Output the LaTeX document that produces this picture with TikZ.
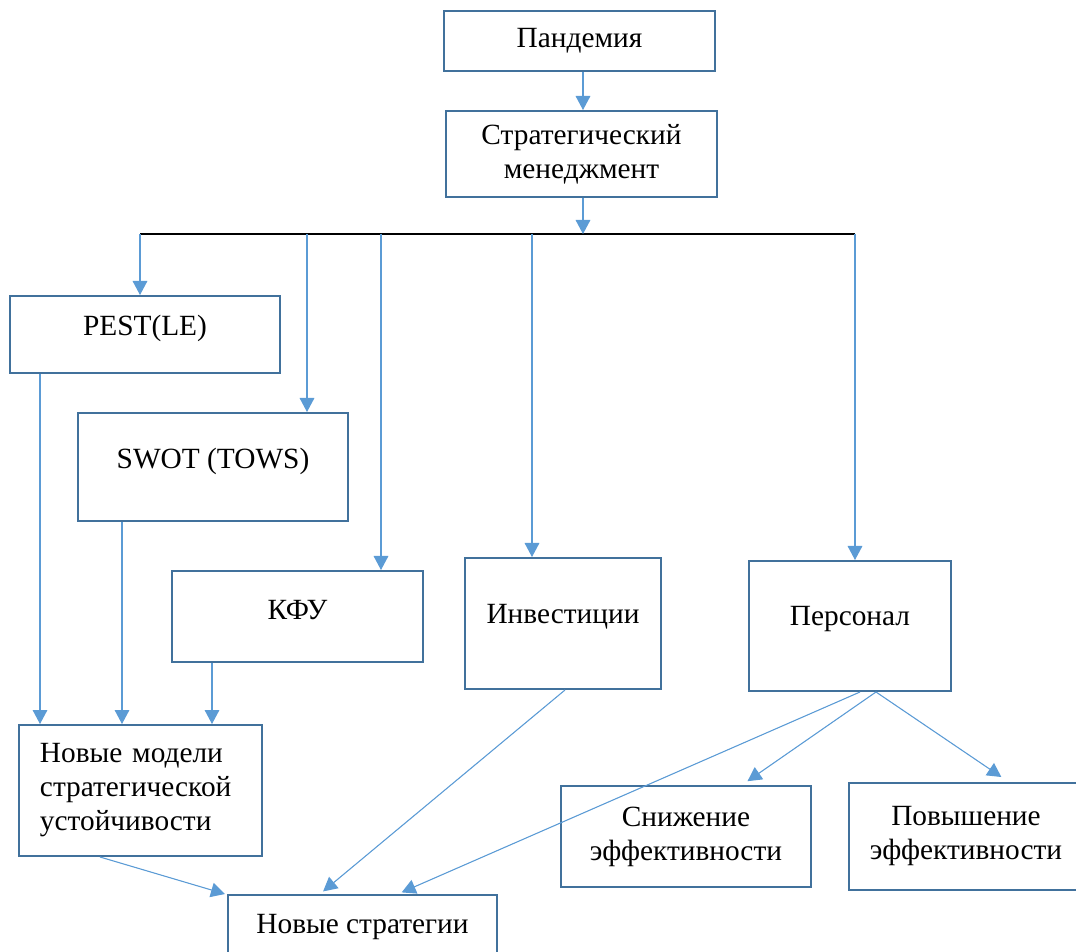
\documentclass[tikz,border=0pt]{standalone}
\usepackage{fontspec}
\setmainfont{Liberation Serif}
\usepackage{xcolor}
\usepackage{tikz}
\usetikzlibrary{shapes,arrows.meta,positioning,calc}
\definecolor{boxline}{HTML}{41719C}
\definecolor{arrline}{HTML}{5B9BD5}

\begin{document}
\begin{tikzpicture}[
    x=0.75pt, y=-0.75pt,
    block/.style={rectangle, draw=boxline, line width=1.5pt, fill=white, align=center, font=\fontsize{22}{25.5}\selectfont},
    size/.style 2 args={minimum width=#1*0.75pt, minimum height=#2*0.75pt},
    lift/.style={text height=15.4pt, text depth=#1},
    arrow/.style={-{Triangle[length=10.5pt, width=11pt]}, line width=0.8pt, draw=arrline, fill=arrline},
    bus/.style={line width=0.9pt, draw=black}
]
    \useasboundingbox (0,0) rectangle (1076,952);

    \node [block, size={271}{60}] (pand) at (579.5,41) {Пандемия};
    \node [block, size={271}{86}] (strat) at (581.5,154) {Стратегический\\менеджмент};
    \node [block, size={270}{77}, lift=13.6pt] (pest) at (145,334.5) {PEST(LE)};
    \node [block, size={270}{108}, lift=12.8pt] (swot) at (213,467) {SWOT (TOWS)};
    \node [block, size={251}{91}, lift=10.6pt] (kfu) at (297.5,616.5) {КФУ};
    \node [block, size={196}{131}, lift=15pt] (invest) at (563,623.5) {Инвестиции};
    \node [block, size={202}{130}, lift=15.8pt] (pers) at (850,626) {Персонал};
    \node [block, size={243}{131}, text width=201*0.75pt, align=left] (nm) at (140.5,790.5) {Новые модели\\стратегической\\устойчивости};
    \node [block, size={269}{70}, lift=9.8pt] (ns) at (362.5,930) {Новые стратегии};
    \node [block, size={250}{101}] (snizh) at (686,836.5) {Снижение\\эффективности};
    \node [block, size={234}{107}] (povysh) at (966,836) {Повышение\\эффективности};

    \coordinate (busL) at (140,234);
    \coordinate (busR) at (855,234);
    \draw [bus] (busL) -- (busR);

    \draw [arrow] (583,0 |- pand.south) -- (583,0 |- strat.north);
    \draw [arrow] (583,0 |- strat.south) -- (583,0 |- busL);
    \foreach \x/\t in {140/pest, 307/swot, 381/kfu, 532/invest, 855/pers}
        \draw [arrow] (\x,0 |- busL) -- (\x,0 |- \t.north);
    \foreach \x/\s in {40/pest, 122/swot, 212/kfu}
        \draw [arrow] (\x,0 |- \s.south) -- (\x,0 |- nm.north);

    \draw [arrow] (100,0 |- nm.south) -- (225,0 |- ns.north);
    \draw [arrow, shorten >=3pt] (565,0 |- invest.south) -- (320,0 |- ns.north);
    \draw [arrow, shorten >=3pt] (860,0 |- pers.south) -- (398,0 |- ns.north);
    \draw [arrow, shorten >=5pt] (876,0 |- pers.south) -- (742,0 |- snizh.north);
    \draw [arrow, shorten >=6pt] (876,0 |- pers.south) -- (1008,0 |- povysh.north);
\end{tikzpicture}
\end{document}
